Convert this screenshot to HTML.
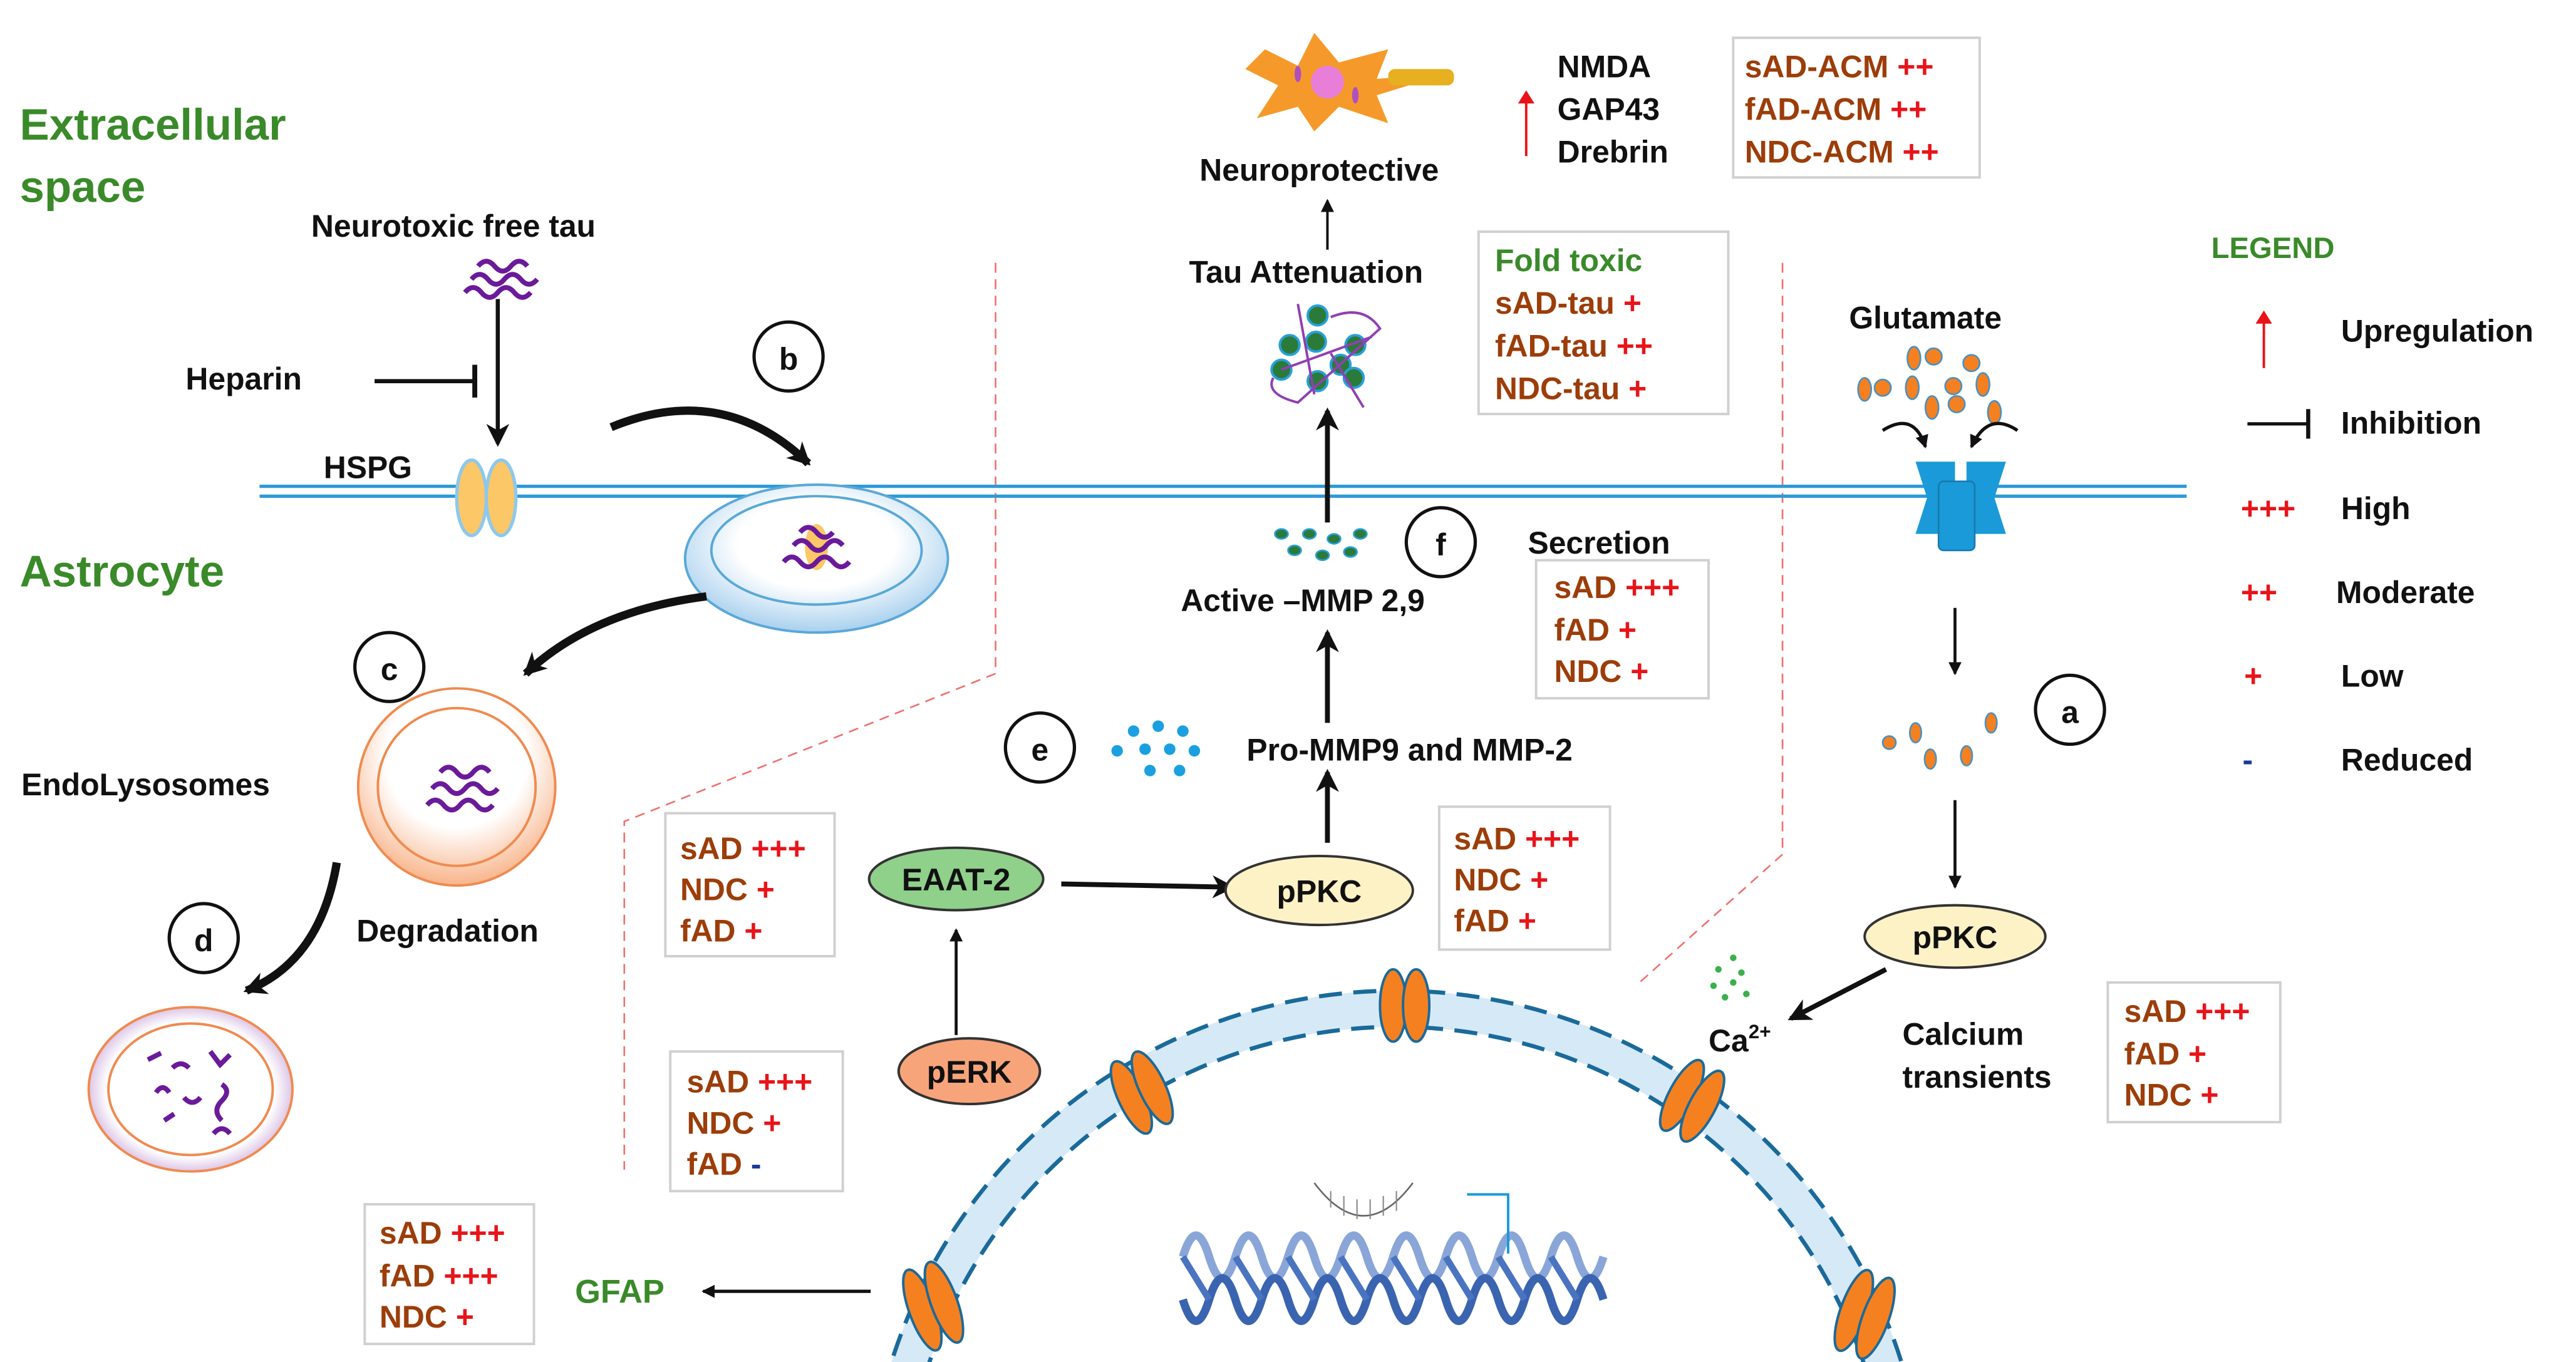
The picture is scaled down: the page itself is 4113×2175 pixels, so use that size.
<!DOCTYPE html>
<html><head><meta charset="utf-8"><style>
html,body{margin:0;padding:0;background:#fff;width:4113px;height:2175px;overflow:hidden;}
svg{display:block;}
text{font-family:"Liberation Sans",sans-serif;font-weight:bold;}
.b{fill:#111;font-size:19px;}
.g{fill:#3a8a2a;}
.br{fill:#9c3d0a;font-size:19px;}
.r{fill:#e8141a;}
.box{fill:#fff;stroke:#d0d0d0;stroke-width:1.5;}
.circ{fill:#fff;stroke:#111;stroke-width:2;}
</style></head><body>
<svg width="4113" height="2175" viewBox="0 0 1568 829" preserveAspectRatio="none" xmlns="http://www.w3.org/2000/svg">
<defs>
<marker id="ah" markerWidth="8" markerHeight="8" refX="7" refY="4" orient="auto" markerUnits="userSpaceOnUse"><path d="M0,0 L8,4 L0,8 z" fill="#111"/></marker>
<marker id="ahr" markerWidth="8" markerHeight="10" refX="7" refY="5" orient="auto" markerUnits="userSpaceOnUse"><path d="M0,0 L8,5 L0,10 z" fill="#e8141a"/></marker>
<marker id="ahb" markerWidth="14" markerHeight="14" refX="12" refY="7" orient="auto" markerUnits="userSpaceOnUse"><path d="M0,0 L14,7 L0,14 L4,7 z" fill="#111"/></marker>
<radialGradient id="ves" cx="0.5" cy="0.4" r="0.6"><stop offset="0.5" stop-color="#fff"/><stop offset="1" stop-color="#a8d0ee"/></radialGradient>
<radialGradient id="ovs" cx="0.5" cy="0.35" r="0.65"><stop offset="0.55" stop-color="#fff"/><stop offset="1" stop-color="#f8b48a"/></radialGradient>
<radialGradient id="pvs" cx="0.5" cy="0.5" r="0.55"><stop offset="0.75" stop-color="#fff"/><stop offset="1" stop-color="#c9a6d8"/></radialGradient>
</defs>

<g stroke="#f07070" stroke-width="1" stroke-dasharray="6,4" fill="none">
<path d="M606,160 L606,410 L380,500 L380,712"/>
<path d="M1085,160 L1085,520 L998,598"/>
</g>

<text x="12" y="85" class="g" font-size="27">Extracellular</text>
<text x="12" y="123" class="g" font-size="27">space</text>
<text x="12" y="357" class="g" font-size="27">Astrocyte</text>

<line x1="158" y1="296" x2="1331" y2="296" stroke="#2e9ad8" stroke-width="2"/>
<line x1="158" y1="302" x2="1331" y2="302" stroke="#2e9ad8" stroke-width="2"/>

<text x="197" y="291" class="b">HSPG</text>
<ellipse cx="287" cy="303" rx="9" ry="23" fill="#fcc766" stroke="#8cc8ee" stroke-width="2"/>
<ellipse cx="305" cy="303" rx="9" ry="23" fill="#fcc766" stroke="#8cc8ee" stroke-width="2"/>

<text x="276" y="144" class="b" text-anchor="middle" font-size="18">Neurotoxic free tau</text>
<g stroke="#6a1a9a" stroke-width="3" fill="none">
<path d="M283,178 q5,-6 10,0 q5,6 10,0 q5,-6 10,0 q5,6 10,0"/>
<path d="M287,170 q5,-6 10,0 q5,6 10,0 q5,-6 10,0 q5,6 10,0"/>
<path d="M291,162 q5,-6 10,0 q5,6 10,0 q5,-6 10,0"/>
</g>
<text x="113" y="237" class="b">Heparin</text>
<line x1="228" y1="232" x2="288" y2="232" stroke="#111" stroke-width="2.5"/>
<line x1="289" y1="222" x2="289" y2="242" stroke="#111" stroke-width="3"/>
<line x1="303" y1="182" x2="303" y2="270" stroke="#111" stroke-width="2.5" marker-end="url(#ahb)"/>

<circle cx="480" cy="217" r="21" class="circ"/><text x="480" y="225" class="b" text-anchor="middle" font-size="22">b</text>
<path d="M372,260 Q440,232 492,282" stroke="#111" stroke-width="5" fill="none" marker-end="url(#ahb)"/>

<ellipse cx="497" cy="340" rx="80" ry="45" fill="url(#ves)" stroke="#5aa8d8" stroke-width="1.5"/>
<ellipse cx="497" cy="335" rx="64" ry="33" fill="none" stroke="#5aa8d8" stroke-width="1.5"/>
<ellipse cx="497" cy="333" rx="7" ry="14" fill="#fcc766"/>
<g stroke="#6a1a9a" stroke-width="3" fill="none">
<path d="M477,342 q5,-6 10,0 q5,6 10,0 q5,-6 10,0 q5,6 10,0"/>
<path d="M483,332 q5,-6 10,0 q5,6 10,0 q5,-6 10,0"/>
<path d="M487,324 q5,-6 10,0 q5,6 10,0"/>
</g>

<path d="M430,363 Q360,372 320,410" stroke="#111" stroke-width="5" fill="none" marker-end="url(#ahb)"/>
<circle cx="237" cy="406" r="21" class="circ"/><text x="237" y="414" class="b" text-anchor="middle" font-size="22">c</text>
<text x="13" y="484" class="b" font-size="18">EndoLysosomes</text>
<circle cx="278" cy="479" r="60" fill="url(#ovs)" stroke="#f08a50" stroke-width="1.5"/>
<circle cx="278" cy="479" r="48" fill="none" stroke="#f08a50" stroke-width="1.5"/>
<g stroke="#6a1a9a" stroke-width="3" fill="none">
<path d="M260,490 q5,-6 10,0 q5,6 10,0 q5,-6 10,0 q5,6 10,0"/>
<path d="M263,480 q5,-6 10,0 q5,6 10,0 q5,-6 10,0 q5,6 10,0"/>
<path d="M268,470 q5,-6 10,0 q5,6 10,0 q5,-6 10,0"/>
</g>
<path d="M205,525 Q195,585 150,603" stroke="#111" stroke-width="5" fill="none" marker-end="url(#ahb)"/>
<circle cx="124" cy="571" r="21" class="circ"/><text x="124" y="579" class="b" text-anchor="middle" font-size="22">d</text>
<text x="217" y="573" class="b">Degradation</text>
<ellipse cx="116" cy="663" rx="62" ry="50" fill="url(#pvs)" stroke="#f08a50" stroke-width="1.5"/>
<ellipse cx="116" cy="663" rx="50" ry="40" fill="none" stroke="#f08a50" stroke-width="1.5"/>
<g stroke="#6a1a9a" stroke-width="3" fill="none">
<path d="M90,645 l8,-4"/><path d="M105,650 q5,-5 10,0"/><path d="M128,640 l6,8 l6,-6"/><path d="M95,665 q4,-6 8,0"/><path d="M112,668 q5,6 10,0"/><path d="M135,660 q6,4 0,10 q-6,6 0,12"/><path d="M100,682 l6,-4"/><path d="M130,690 q5,-6 10,0"/>
</g>

<g>
<path d="M770,30 L790,40 L800,20 L815,38 L845,30 L838,48 L880,45 L838,58 L845,75 L815,65 L800,80 L790,65 L765,72 L778,52 L758,42 z" fill="#f59a2a"/>
<rect x="845" y="42" width="40" height="10" rx="4" fill="#e6b020"/>
<circle cx="808" cy="50" r="10" fill="#e87ed8"/>
<ellipse cx="790" cy="45" rx="2" ry="5" fill="#b050c0"/><ellipse cx="825" cy="58" rx="2" ry="5" fill="#b050c0"/>
</g>
<text x="803" y="110" class="b" text-anchor="middle">Neuroprotective</text>
<line x1="808" y1="152" x2="808" y2="122" stroke="#111" stroke-width="1.5" marker-end="url(#ah)"/>
<line x1="929" y1="95" x2="929" y2="56" stroke="#e8141a" stroke-width="1.5" marker-end="url(#ahr)"/>
<text x="948" y="47" class="b">NMDA</text>
<text x="948" y="73" class="b">GAP43</text>
<text x="948" y="99" class="b">Drebrin</text>
<rect x="1055" y="23" width="150" height="85" class="box"/>
<text x="1062" y="47" class="br">sAD-ACM <tspan class="r">++</tspan></text>
<text x="1062" y="73" class="br">fAD-ACM  <tspan class="r">++</tspan></text>
<text x="1062" y="99" class="br">NDC-ACM <tspan class="r">++</tspan></text>

<text x="795" y="172" class="b" text-anchor="middle">Tau Attenuation</text>
<g fill="#2a7a3a" stroke="#2aa0d8" stroke-width="1.5">
<circle cx="802" cy="192" r="6"/><circle cx="785" cy="210" r="6"/><circle cx="801" cy="208" r="6"/><circle cx="825" cy="210" r="6"/><circle cx="780" cy="225" r="6"/><circle cx="816" cy="222" r="6"/><circle cx="802" cy="232" r="6"/><circle cx="824" cy="230" r="6"/>
</g>
<g stroke="#9040b0" stroke-width="1.5" fill="none">
<path d="M775,230 Q770,240 790,245 L840,200 Q830,185 810,193"/><path d="M790,185 L800,240"/><path d="M780,225 L835,205"/><path d="M810,215 L830,248"/>
</g>
<rect x="900" y="141" width="152" height="111" class="box"/>
<text x="910" y="165" class="g" font-size="19">Fold toxic</text>
<text x="910" y="191" class="br">sAD-tau <tspan class="r">+</tspan></text>
<text x="910" y="217" class="br">fAD-tau  <tspan class="r">++</tspan></text>
<text x="910" y="243" class="br">NDC-tau <tspan class="r">+</tspan></text>
<line x1="808" y1="318" x2="808" y2="250" stroke="#111" stroke-width="3" marker-end="url(#ahb)"/>

<g fill="#2a7a3a" stroke="#2aa0d8" stroke-width="1"><ellipse cx="780" cy="325" rx="4" ry="3"/><ellipse cx="797" cy="325" rx="4" ry="3"/><ellipse cx="812" cy="328" rx="4" ry="3"/><ellipse cx="828" cy="325" rx="4" ry="3"/><ellipse cx="788" cy="335" rx="4" ry="3"/><ellipse cx="805" cy="338" rx="4" ry="3"/><ellipse cx="822" cy="336" rx="4" ry="3"/></g>
<circle cx="877" cy="330" r="21" class="circ"/><text x="877" y="338" class="b" text-anchor="middle" font-size="22">f</text>
<text x="930" y="337" class="b">Secretion</text>
<text x="793" y="372" class="b" text-anchor="middle">Active –MMP 2,9</text>
<rect x="935" y="341" width="105" height="84" class="box"/>
<text x="946" y="364" class="br">sAD <tspan class="r">+++</tspan></text>
<text x="946" y="390" class="br">fAD  <tspan class="r">+</tspan></text>
<text x="946" y="415" class="br">NDC <tspan class="r">+</tspan></text>
<line x1="808" y1="440" x2="808" y2="385" stroke="#111" stroke-width="3" marker-end="url(#ahb)"/>

<circle cx="633" cy="455" r="21" class="circ"/><text x="633" y="463" class="b" text-anchor="middle" font-size="22">e</text>
<g fill="#1aa0e0"><circle cx="690" cy="445" r="3.5"/><circle cx="705" cy="442" r="3.5"/><circle cx="720" cy="445" r="3.5"/><circle cx="680" cy="457" r="3.5"/><circle cx="697" cy="456" r="3.5"/><circle cx="712" cy="456" r="3.5"/><circle cx="727" cy="457" r="3.5"/><circle cx="700" cy="469" r="3.5"/><circle cx="718" cy="469" r="3.5"/></g>
<text x="858" y="463" class="b" text-anchor="middle">Pro-MMP9 and MMP-2</text>
<line x1="808" y1="513" x2="808" y2="470" stroke="#111" stroke-width="3" marker-end="url(#ahb)"/>

<rect x="405" y="495" width="103" height="87" class="box"/>
<text x="414" y="523" class="br">sAD <tspan class="r">+++</tspan></text>
<text x="414" y="548" class="br">NDC <tspan class="r">+</tspan></text>
<text x="414" y="573" class="br">fAD  <tspan class="r">+</tspan></text>
<ellipse cx="582" cy="535" rx="53" ry="19" fill="#8fd08a" stroke="#333" stroke-width="1.5"/>
<text x="582" y="542" class="b" text-anchor="middle" font-size="18">EAAT-2</text>
<line x1="646" y1="538" x2="750" y2="540" stroke="#111" stroke-width="3" marker-end="url(#ahb)"/>
<ellipse cx="803" cy="542" rx="57" ry="21" fill="#fdf2c6" stroke="#333" stroke-width="1.5"/>
<text x="803" y="549" class="b" text-anchor="middle">pPKC</text>
<rect x="876" y="491" width="104" height="87" class="box"/>
<text x="885" y="517" class="br">sAD <tspan class="r">+++</tspan></text>
<text x="885" y="542" class="br">NDC <tspan class="r">+</tspan></text>
<text x="885" y="567" class="br">fAD  <tspan class="r">+</tspan></text>
<line x1="582" y1="630" x2="582" y2="566" stroke="#111" stroke-width="1.8" marker-end="url(#ah)"/>
<ellipse cx="590" cy="652" rx="43" ry="20" fill="#f8a47a" stroke="#333" stroke-width="1.5"/>
<text x="590" y="659" class="b" text-anchor="middle">pERK</text>
<rect x="408" y="640" width="105" height="85" class="box"/>
<text x="418" y="665" class="br">sAD <tspan class="r">+++</tspan></text>
<text x="418" y="690" class="br">NDC <tspan class="r">+</tspan></text>
<text x="418" y="715" class="br">fAD  <tspan fill="#1a3a9a">-</tspan></text>

<circle cx="850" cy="925" r="311" fill="none" stroke="#d6e9f7" stroke-width="22"/>
<circle cx="850" cy="925" r="322" fill="none" stroke="#1a6a9a" stroke-width="2.5" stroke-dasharray="14,7"/>
<circle cx="850" cy="925" r="300" fill="none" stroke="#1a6a9a" stroke-width="2.5" stroke-dasharray="14,7"/>
<g fill="#f58020" stroke="#1a6a9a" stroke-width="1.5">
<ellipse cx="848" cy="612" rx="8" ry="22"/><ellipse cx="862" cy="612" rx="8" ry="22"/>
<g transform="rotate(-25 695 665)"><ellipse cx="688" cy="665" rx="8" ry="24"/><ellipse cx="702" cy="665" rx="8" ry="24"/></g>
<g transform="rotate(28 1030 670)"><ellipse cx="1023" cy="670" rx="8" ry="24"/><ellipse cx="1037" cy="670" rx="8" ry="24"/></g>
<g transform="rotate(-20 568 795)"><ellipse cx="561" cy="795" rx="8" ry="26"/><ellipse cx="575" cy="795" rx="8" ry="26"/></g>
<g transform="rotate(20 1135 800)"><ellipse cx="1128" cy="800" rx="8" ry="26"/><ellipse cx="1142" cy="800" rx="8" ry="26"/></g>
</g>
<g fill="none" stroke-width="5">
<path d="M720,765 q8,-26 16,0 t16,0 t16,0 t16,0 t16,0 t16,0 t16,0 t16,0 t16,0 t16,0 t16,0 t16,0 t16,0 t16,0 t16,0 t16,0" stroke="#8aa6d8"/>
<path d="M720,791 q8,26 16,0 t16,0 t16,0 t16,0 t16,0 t16,0 t16,0 t16,0 t16,0 t16,0 t16,0 t16,0 t16,0 t16,0 t16,0 t16,0" stroke="#3a64b0"/>
<path d="M720,765 L736,791 M752,765 L768,791 M784,765 L800,791 M816,765 L832,791 M848,765 L864,791 M880,765 L896,791 M912,765 L928,791 M944,765 L960,791" stroke="#4a74c0" stroke-width="4"/>
</g>
<path d="M800,720 Q830,760 860,720" stroke="#666" stroke-width="1" fill="none"/>
<g stroke="#888" stroke-width="0.8"><path d="M810,725 v10 M818,728 v12 M826,730 v12 M834,730 v12 M842,728 v12 M850,725 v12"/></g>
<path d="M893,727 L918,727 L918,763" stroke="#1a9ad8" stroke-width="1.5" fill="none"/>

<line x1="530" y1="786" x2="428" y2="786" stroke="#111" stroke-width="2" marker-end="url(#ah)"/>
<text x="350" y="793" class="g" font-size="20">GFAP</text>
<rect x="222" y="733" width="103" height="85" class="box"/>
<text x="231" y="757" class="br">sAD <tspan class="r">+++</tspan></text>
<text x="231" y="783" class="br">fAD <tspan class="r">+++</tspan></text>
<text x="231" y="808" class="br">NDC <tspan class="r">+</tspan></text>

<text x="1172" y="200" class="b" text-anchor="middle">Glutamate</text>
<g fill="#f58020" stroke="#4a90c0" stroke-width="1">
<ellipse cx="1165" cy="218" rx="4" ry="7"/><circle cx="1177" cy="217" r="5"/><circle cx="1200" cy="221" r="5"/><ellipse cx="1207" cy="234" rx="4" ry="7"/><ellipse cx="1135" cy="237" rx="4" ry="7"/><circle cx="1146" cy="236" r="5"/><ellipse cx="1164" cy="236" rx="4" ry="7"/><circle cx="1189" cy="235" r="5"/><ellipse cx="1176" cy="248" rx="4" ry="7"/><circle cx="1191" cy="246" r="5"/><ellipse cx="1214" cy="251" rx="4" ry="7"/>
</g>
<path d="M1146,262 Q1165,250 1172,272" stroke="#111" stroke-width="2" fill="none" marker-end="url(#ah)"/>
<path d="M1228,262 Q1210,250 1200,272" stroke="#111" stroke-width="2" fill="none" marker-end="url(#ah)"/>
<path d="M1166,281 L1190,281 L1190,298 L1197,298 L1197,281 L1221,281 L1214,303 L1221,325 L1166,325 L1173,303 Z" fill="#1a9ad8"/>
<rect x="1180" y="293" width="22" height="42" rx="3" fill="#1a9ad8" stroke="#167ab0" stroke-width="1"/>
<line x1="1190" y1="370" x2="1190" y2="410" stroke="#111" stroke-width="1.8" marker-end="url(#ah)"/>
<g fill="#f58020" stroke="#4a90c0" stroke-width="1"><circle cx="1150" cy="452" r="4"/><ellipse cx="1166" cy="446" rx="3.5" ry="6"/><ellipse cx="1212" cy="440" rx="3.5" ry="6"/><ellipse cx="1175" cy="462" rx="3.5" ry="6"/><ellipse cx="1197" cy="460" rx="3.5" ry="6"/></g>
<circle cx="1260" cy="432" r="21" class="circ"/><text x="1260" y="440" class="b" text-anchor="middle" font-size="22">a</text>
<line x1="1190" y1="487" x2="1190" y2="540" stroke="#111" stroke-width="1.8" marker-end="url(#ah)"/>
<ellipse cx="1190" cy="570" rx="55" ry="19" fill="#fdf2c6" stroke="#333" stroke-width="1.5"/>
<text x="1190" y="577" class="b" text-anchor="middle">pPKC</text>
<line x1="1148" y1="590" x2="1090" y2="620" stroke="#111" stroke-width="3" marker-end="url(#ahb)"/>
<g fill="#3ab04a"><circle cx="1055" cy="583" r="2"/><circle cx="1046" cy="590" r="2"/><circle cx="1060" cy="592" r="2"/><circle cx="1043" cy="600" r="2"/><circle cx="1055" cy="598" r="2"/><circle cx="1050" cy="607" r="2"/><circle cx="1063" cy="605" r="2"/></g>
<text x="1040" y="640" class="b">Ca<tspan font-size="12" dy="-8">2+</tspan></text>
<text x="1158" y="636" class="b">Calcium</text>
<text x="1158" y="662" class="b">transients</text>
<rect x="1283" y="598" width="105" height="85" class="box"/>
<text x="1293" y="622" class="br">sAD <tspan class="r">+++</tspan></text>
<text x="1293" y="648" class="br">fAD  <tspan class="r">+</tspan></text>
<text x="1293" y="673" class="br">NDC <tspan class="r">+</tspan></text>

<text x="1346" y="157" class="g" font-size="18">LEGEND</text>
<line x1="1378" y1="224" x2="1378" y2="190" stroke="#e8141a" stroke-width="1.5" marker-end="url(#ahr)"/>
<text x="1425" y="208" class="b">Upregulation</text>
<line x1="1368" y1="258" x2="1404" y2="258" stroke="#111" stroke-width="2"/>
<line x1="1405" y1="249" x2="1405" y2="267" stroke="#111" stroke-width="2.5"/>
<text x="1425" y="264" class="b">Inhibition</text>
<text x="1364" y="316" class="r" font-size="19">+++</text><text x="1425" y="316" class="b">High</text>
<text x="1364" y="367" class="r" font-size="19">++</text><text x="1422" y="367" class="b">Moderate</text>
<text x="1366" y="418" class="r" font-size="19">+</text><text x="1425" y="418" class="b">Low</text>
<text x="1365" y="469" fill="#1a3a9a" font-size="19">-</text><text x="1425" y="469" class="b">Reduced</text>
</svg>
</body></html>
